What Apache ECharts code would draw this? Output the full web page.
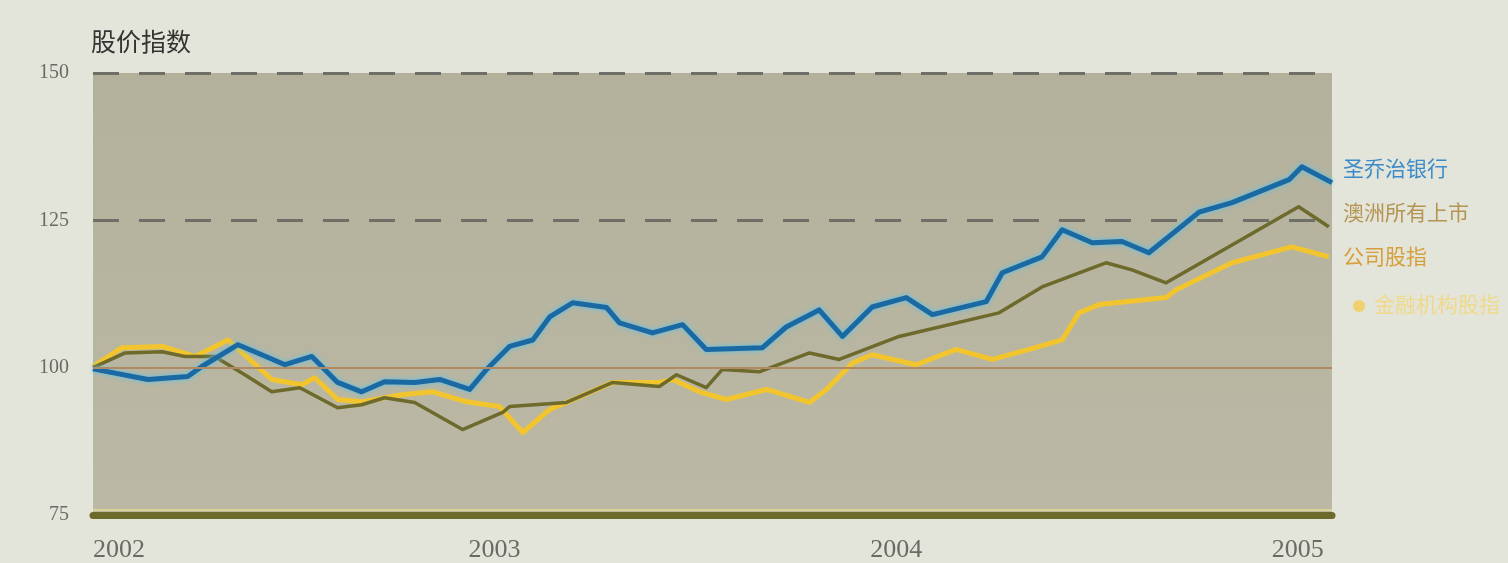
<!DOCTYPE html>
<html>
<head>
<meta charset="utf-8">
<script src="https://cdn.jsdelivr.net/npm/echarts@6/dist/echarts.min.js"></script>
<style>
  html, body { margin: 0; padding: 0; background: #e3e5db; }
  #chart { width: 1508px; height: 563px; }
</style>
</head>
<body>
<div id="chart"></div>
<script>
// ---- data (time in decimal years, index value) ----
const title = '股价指数';
const yTicks = [75, 100, 125, 150];
const seriesNames = ['圣乔治银行', '澳洲所有上市公司股指', '金融机构股指'];

const blueT = [2002.000, 2002.137, 2002.236, 2002.271, 2002.361, 2002.410, 2002.478, 2002.545, 2002.609, 2002.669,
  2002.726, 2002.801, 2002.863, 2002.938, 2002.980, 2003.037, 2003.095, 2003.137, 2003.194, 2003.279,
  2003.311, 2003.393, 2003.468, 2003.527, 2003.667, 2003.726, 2003.808, 2003.866, 2003.940, 2004.025,
  2004.090, 2004.224, 2004.264, 2004.363, 2004.413, 2004.488, 2004.562, 2004.629, 2004.754, 2004.836,
  2004.978, 2005.010, 2005.085];
const blueV = [99.8, 98.0, 98.5, 100.2, 103.9, 102.5, 100.5, 101.9, 97.5, 95.9,
  97.6, 97.5, 98.0, 96.3, 99.7, 103.6, 104.7, 108.6, 111.0, 110.2,
  107.6, 105.9, 107.3, 103.1, 103.4, 106.9, 109.8, 105.3, 110.3, 111.9,
  109.0, 111.2, 116.1, 118.8, 123.4, 121.2, 121.4, 119.5, 126.4, 128.0,
  131.9, 134.1, 131.4];

const oliveT = [2002.000, 2002.080, 2002.172, 2002.229, 2002.303, 2002.378, 2002.445, 2002.515, 2002.609, 2002.669,
  2002.726, 2002.801, 2002.920, 2003.020, 2003.037, 2003.179, 2003.294, 2003.410, 2003.453, 2003.527,
  2003.567, 2003.659, 2003.784, 2003.858, 2004.007, 2004.256, 2004.363, 2004.522, 2004.587, 2004.672,
  2005.002, 2005.077];
const oliveV = [100.0, 102.5, 102.7, 101.9, 101.9, 98.8, 95.9, 96.6, 93.2, 93.7,
  94.9, 94.1, 89.5, 92.4, 93.4, 94.1, 97.5, 96.8, 98.8, 96.6,
  99.7, 99.3, 102.5, 101.4, 105.3, 109.3, 113.7, 117.8, 116.6, 114.4,
  127.3, 123.9];

const yellowT = [2002.000, 2002.072, 2002.172, 2002.254, 2002.336, 2002.445, 2002.520, 2002.552, 2002.609, 2002.669,
  2002.769, 2002.846, 2002.930, 2003.012, 2003.070, 2003.137, 2003.179, 2003.294, 2003.410, 2003.443,
  2003.510, 2003.577, 2003.677, 2003.784, 2003.826, 2003.891, 2003.940, 2004.050, 2004.149, 2004.239,
  2004.331, 2004.413, 2004.455, 2004.505, 2004.672, 2004.697, 2004.836, 2004.985, 2005.077];
const yellowV = [100.2, 103.4, 103.6, 101.9, 104.7, 98.0, 97.1, 98.3, 94.6, 94.2,
  95.4, 95.9, 94.2, 93.4, 89.0, 92.9, 94.1, 97.5, 97.5, 98.0,
  95.9, 94.6, 96.3, 94.1, 96.3, 100.8, 102.2, 100.5, 103.1, 101.4,
  103.1, 104.7, 109.3, 110.7, 111.9, 113.2, 117.8, 120.5, 118.8];

const zip = (t, v) => t.map((x, i) => [x, v[i]]);

const chart = echarts.init(document.getElementById('chart'), null, { renderer: 'canvas' });
chart.setOption({
  backgroundColor: '#e3e5db',
  animation: false,
  title: {
    text: title, left: 86, top: 24,
    textStyle: { fontFamily: 'Noto Sans CJK SC', fontSize: 25, fontWeight: 'normal', color: '#333331' }
  },
  grid: {
    left: 93, right: 176, top: 73, bottom: 48,
    show: true, borderWidth: 0,
    backgroundColor: new echarts.graphic.LinearGradient(0, 0, 0, 1, [
      { offset: 0, color: '#b3b19b' }, { offset: 1, color: '#bbb9a5' }
    ])
  },
  xAxis: {
    type: 'value', min: 2002, max: 2005.085, interval: 1,
    axisLine: { show: true, onZero: false, lineStyle: { color: '#6c6a2b', width: 7 } },
    axisTick: { show: false },
    splitLine: { show: false },
    axisLabel: {
      margin: 22, fontFamily: 'Liberation Serif', fontSize: 26, color: '#6a6a66',
      alignMinLabel: 'left',
      formatter: v => Math.abs(v - Math.round(v)) < 1e-6 ? String(Math.round(v)) : ''
    }
  },
  yAxis: {
    type: 'value', min: 75, max: 150, interval: 25,
    axisLine: { show: false }, axisTick: { show: false }, splitLine: { show: false },
    axisLabel: { margin: 24, fontFamily: 'Liberation Serif', fontSize: 20, color: '#6a6a66' }
  },
  graphic: [
    { type: 'text', left: 1343, top: 158, style: { text: '圣乔治银行', fill: '#3d8cc8', font: '21px "Noto Sans CJK SC"' } },
    { type: 'text', left: 1343, top: 202, style: { text: '澳洲所有上市', fill: '#b59452', font: '21px "Noto Sans CJK SC"' } },
    { type: 'text', left: 1343, top: 246, style: { text: '公司股指', fill: '#d79f3c', font: '21px "Noto Sans CJK SC"' } },
    { type: 'circle', shape: { cx: 1359, cy: 306, r: 6 }, style: { fill: '#efd170' } },
    { type: 'text', left: 1374, top: 294, style: { text: '金融机构股指', fill: '#f0d98a', font: '21px "Noto Sans CJK SC"' } }
  ],
  series: [
    {
      name: 'refs', type: 'line', data: [], silent: true,
      markLine: {
        symbol: 'none', silent: true, label: { show: false },
        data: [
          { yAxis: 150, lineStyle: { color: '#6f6f68', type: [26, 20], width: 3 } },
          { yAxis: 125, lineStyle: { color: '#6f6f68', type: [26, 20], width: 3 } },
          { yAxis: 100, lineStyle: { color: '#b08a62', type: 'solid', width: 2 } },
          { yAxis: 75.9, lineStyle: { color: '#d9d38f', type: 'solid', width: 2 } }
        ]
      }
    },
    {
      name: seriesNames[2], type: 'line', data: zip(yellowT, yellowV), symbol: 'none',
      lineStyle: { color: '#f2c52f', width: 5, join: 'round' }
    },
    {
      name: seriesNames[1], type: 'line', data: zip(oliveT, oliveV), symbol: 'none',
      lineStyle: { color: '#6d6a2c', width: 3.5, join: 'round' }
    },
    {
      name: seriesNames[0], type: 'line', data: zip(blueT, blueV), symbol: 'none',
      lineStyle: { color: '#1a69a3', width: 5, join: 'round', shadowColor: '#5cc2ea', shadowBlur: 5 }
    }
  ]
});
</script>
</body>
</html>
